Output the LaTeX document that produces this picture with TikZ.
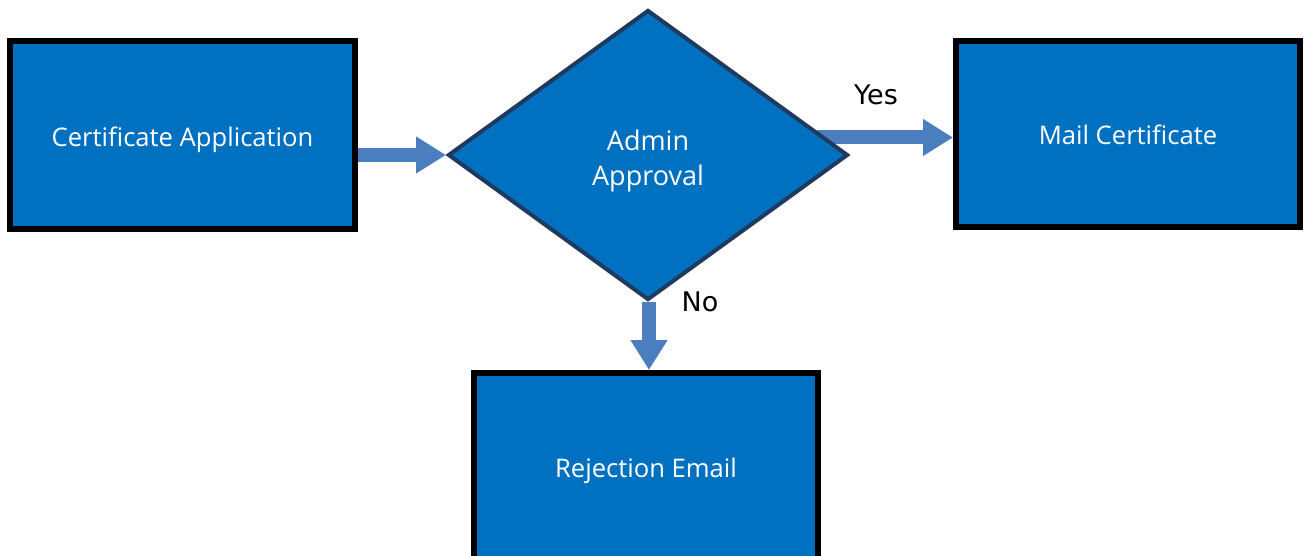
\documentclass[tikz,border=0pt]{standalone}
\usepackage{fontspec}
\setmainfont{Open Sans}
\newfontfamily\labelfont{DejaVu Sans}
\usetikzlibrary{shapes.geometric,arrows.meta,backgrounds}
\definecolor{boxblue}{HTML}{0070C0}
\definecolor{navy}{HTML}{1F3A5F}
\definecolor{arrowblue}{HTML}{4A7EBF}
\newcommand\lowertext[2]{\raisebox{0pt}[\dimexpr\height+#1\relax][\depth]{#2}}
\tikzset{
  procbox/.style={draw=black, line width=6pt, fill=boxblue, text=white,
    inner sep=0pt, font=\fontsize{25.6}{30}\selectfont},
  decision/.style={diamond, draw=navy, line width=4pt, fill=boxblue, text=white,
    inner sep=0pt, minimum width=400pt, minimum height=290pt, align=center,
    font=\fontsize{27}{35}\selectfont},
  flowarrow/.style={draw=arrowblue, line width=14pt,
    -{Triangle[width=35pt,length=30pt]}},
  edgelabel/.style={font=\labelfont\fontsize{27}{30}\selectfont, text=black}
}
\begin{document}
\begin{tikzpicture}[x=1pt,y=-1pt]
\useasboundingbox (0,0) rectangle (1304,556);
\node[procbox, minimum width=345pt, minimum height=188pt] (app) at (182.5,135) {\lowertext{10pt}{Certificate Application}};
\node[decision] (dia) at (648,155) {\lowertext{12pt}{\begin{tabular}{@{}c@{}}Admin\\Approval\end{tabular}}};
\node[procbox, minimum width=344pt, minimum height=186pt] (mail) at (1128,134) {\lowertext{2pt}{Mail Certificate}};
\node[procbox, minimum width=344pt, minimum height=188pt] (rej) at (646,467) {\lowertext{8pt}{Rejection Email}};
\coordinate (yesstart) at ([xshift=-33pt,yshift=17.5pt]dia.east);
\begin{scope}[on background layer]
\draw[flowarrow] (app.east |- dia.west) -- (dia.west);
\draw[flowarrow] (yesstart) -- (yesstart -| mail.west);
\draw[flowarrow] ([xshift=1pt]dia.south) -- ([xshift=1pt]dia.south |- rej.north);
\end{scope}
\node[edgelabel] (yes) at (876,95) {Yes};
\node[edgelabel] (no) at (700,302) {No};
\end{tikzpicture}
\end{document}
